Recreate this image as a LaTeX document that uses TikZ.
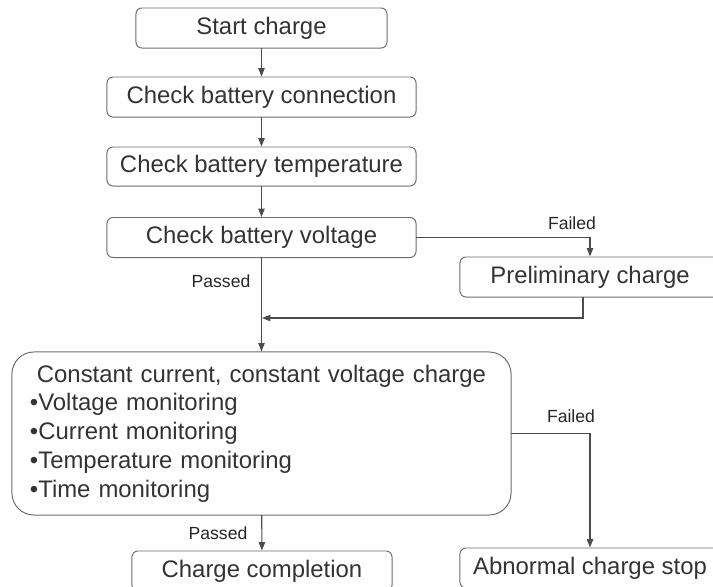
\documentclass[tikz,border=0pt]{standalone}
\usepackage{fontspec}
\setmainfont{Liberation Sans}
\usetikzlibrary{arrows.meta}
\usepackage{xcolor}

\begin{document}
\begin{tikzpicture}[x=0.025cm,y=-0.025cm,>={Triangle[length=2.1mm,width=1.6mm]},line cap=round,
  stepbox/.style={draw=gray!85!black,line width=0.7pt,rounded corners=0.15cm,text=black!80,
    minimum height=1cm,inner sep=0pt,font=\fontsize{17}{20.5}\selectfont},
  flow/.style={draw=black!70,line width=0.85pt},
  tag/.style={text=black!85,font=\fontsize{12.5}{14}\selectfont,inner sep=0pt}]
\useasboundingbox (0,0) rectangle (713,587);
\clip (0,0) rectangle (713,587);
\node[stepbox,minimum width=6.275cm] (start) at (261.5,28) {Start charge};
\node[stepbox,minimum width=7.725cm] (conn) at (261.5,97) {Check battery connection};
\node[stepbox,minimum width=7.725cm,minimum height=0.975cm] (temp) at (261.5,166.5) {Check battery temperature};
\node[stepbox,minimum width=7.725cm] (volt) at (261.5,237.5) {Check battery voltage};
\node[stepbox,minimum width=6.5cm] (prelim) at (590,277) {Preliminary charge};
\node[stepbox,rounded corners=0.55cm,minimum height=4.075cm,text width=11.575cm,
  inner xsep=0.45cm,align=left] (cc) at (261.5,433.5)
  {\makebox[\linewidth][c]{Constant current, constant voltage charge}\\
   •Voltage monitoring\\
   •Current monitoring\\
   •Temperature monitoring\\
   •Time monitoring};
\node[stepbox,minimum width=6.5cm] (done) at (262,571) {Charge completion};
\node[stepbox,minimum width=6.5cm] (abn) at (590,568) {Abnormal charge stop};
\coordinate (merge) at (262,318);
% connectors
\draw[flow,->] (start) -- (conn);
\draw[flow,->] (conn) -- (temp);
\draw[flow,->] (temp) -- (volt);
\draw[flow,->] (volt.east) -| (prelim.north);
\draw[flow,->] (volt) -- (cc);
\draw[flow,->] ([xshift=-0.175cm]prelim.south) |- (merge);
\draw[flow,->] (cc.east) -| (abn.north);
\draw[flow,->] (cc) -- (done);
% labels
\node[tag] (fail1) at (572,223) {Failed};
\node[tag] (pass1) at (221,281) {Passed};
\node[tag] (fail2) at (571,416) {Failed};
\node[tag] (pass2) at (218,533) {Passed};
\end{tikzpicture}
\end{document}
